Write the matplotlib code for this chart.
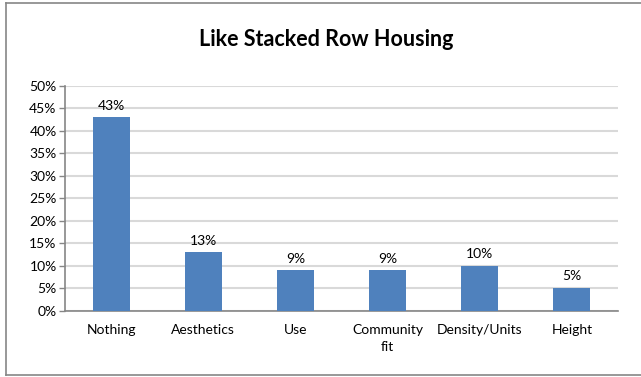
import matplotlib
matplotlib.use("Agg")
import matplotlib.pyplot as plt
from matplotlib.lines import Line2D

categories = ["Nothing", "Aesthetics", "Use", "Community\nfit", "Density/Units", "Height"]
values = [43, 13, 9, 9, 10, 5]
yticks = [0, 5, 10, 15, 20, 25, 30, 35, 40, 45, 50]
title = "Like Stacked Row Housing"

plt.rcParams['font.family'] = ['Lato', 'DejaVu Sans']

W, H = 641, 377
fig = plt.figure(figsize=(W/100, H/100), dpi=100)
ax = fig.add_axes([65/W, 1-310.5/H, (618-65)/W, (310.5-86)/H])

x = list(range(len(categories)))
bars = ax.bar(x, values, width=0.4, color="#4f81bd", zorder=3)
ax.set_xlim(-0.5, len(categories)-0.5)
ax.set_ylim(0, 50)
ax.set_yticks(yticks)
ax.set_yticklabels([f"{v}%" for v in yticks], fontsize=10)
ax.set_xticks(x)
ax.set_xticklabels(categories, fontsize=10, linespacing=1.5)
ax.tick_params(axis='x', length=0, pad=10)
ax.tick_params(axis='y', length=4, width=1, color="#868686", pad=2)
ax.yaxis.grid(True, color="#d9d9d9", linewidth=1.5, zorder=0)
for s in ["top", "right"]:
    ax.spines[s].set_visible(False)
for s in ["left", "bottom"]:
    ax.spines[s].set_color("#868686")
    ax.spines[s].set_linewidth(1.2)

for xi, v in zip(x, values):
    ax.annotate(f"{v}%", (xi, v), xytext=(0, 4), textcoords="offset points",
                ha="center", va="bottom", fontsize=10)

fig.text(326/W, 1-40/H, title, ha="center", va="center", fontsize=15.5, fontweight="bold")

# outer frame
fig.add_artist(Line2D([6/W, 6/W], [1-3/H, 1-375/H], color="#868686", lw=1.2, transform=fig.transFigure))
fig.add_artist(Line2D([6/W, 1], [1-3/H, 1-3/H], color="#868686", lw=1.2, transform=fig.transFigure))
fig.add_artist(Line2D([6/W, 1], [1-375/H, 1-375/H], color="#868686", lw=1.2, transform=fig.transFigure))

fig.savefig("out.png", dpi=100)
